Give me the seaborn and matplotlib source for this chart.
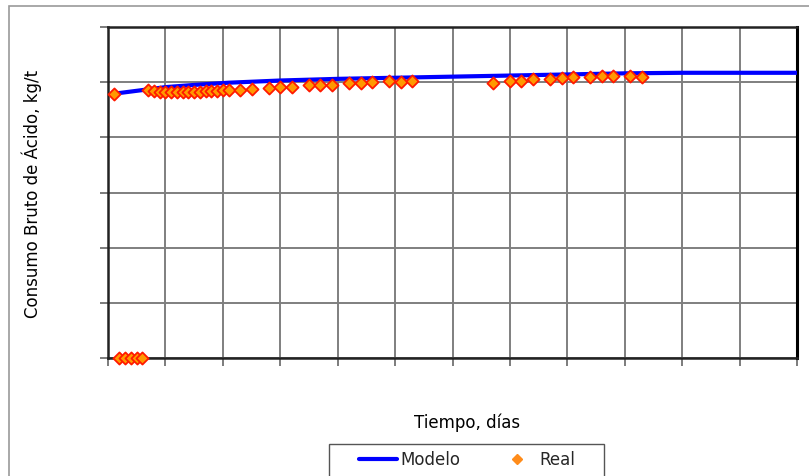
import numpy as np
import pandas as pd
import matplotlib
matplotlib.use("Agg")
import matplotlib.pyplot as plt
from matplotlib.patches import Rectangle
from matplotlib.lines import Line2D
import seaborn as sns

# ---- data ----
real_days = [1, 2, 3, 4, 5, 6,
             7, 8, 9, 10, 11, 12, 13, 14, 15, 16, 17, 18, 19, 20, 21,
             23, 25, 28, 30, 32, 35, 37, 39, 42, 44, 46, 49, 51, 53,
             67, 70, 72, 74, 77, 79, 81, 84, 86, 88, 91, 93]
real_vals = [47.9, 0, 0, 0, 0, 0,
             48.5, 48.4, 48.3, 48.3, 48.2, 48.2, 48.2, 48.3, 48.3, 48.3, 48.4, 48.4, 48.4, 48.5, 48.5,
             48.6, 48.7, 48.9, 49.1, 49.1, 49.5, 49.5, 49.5, 49.9, 49.9, 50.0, 50.2, 50.1, 50.2,
             49.9, 50.2, 50.2, 50.5, 50.5, 50.7, 50.9, 51.0, 51.1, 51.1, 51.2, 51.0]
model_days = [1, 7, 10, 15, 21, 30, 40, 50, 60, 70, 80, 90, 100, 110, 120]
model_vals = [47.9, 48.7, 49.1, 49.5, 49.9, 50.3, 50.6, 50.8, 51.0, 51.2, 51.4, 51.6, 51.7, 51.7, 51.7]

x_ticks = list(range(0, 121, 10))
y_ticks = list(range(0, 61, 10))

real_df = pd.DataFrame({"dia": real_days, "valor": real_vals})
model_df = pd.DataFrame({"dia": model_days, "valor": model_vals})

sns.set_theme(style="white")
plt.rcParams["font.family"] = ["DejaVu Sans"]

W, H = 809, 476
fig = plt.figure(figsize=(W / 100, H / 100), dpi=100)
fig.patch.set_facecolor("white")

# outer chart-area border
fig.patches.append(Rectangle((9 / W, -0.05), 1.0, 1 - 6 / H + 0.05,
                             transform=fig.transFigure, fill=False,
                             edgecolor="#9a9a9a", linewidth=1.2, zorder=0))

ax = fig.add_axes([108 / W, 1 - 358 / H, (797 - 108) / W, (358 - 27) / H])

sns.lineplot(data=model_df, x="dia", y="valor", ax=ax, color="#0000ff",
             linewidth=3, zorder=3, legend=False)
sns.scatterplot(data=real_df, x="dia", y="valor", ax=ax, marker="D",
                s=38, color="#ff9900", edgecolor="#ff1a00", linewidth=1.3,
                zorder=4, legend=False, clip_on=False)

ax.set_xlim(0, 120)
ax.set_ylim(0, 60)
ax.set_xticks(x_ticks)
ax.set_yticks(y_ticks)
ax.tick_params(labelbottom=False, labelleft=False, bottom=True, left=True,
               direction="out", length=6, width=1.2, color="#666666")
ax.grid(True, color="#7f7f7f", linewidth=1.4)
ax.set_axisbelow(True)
for side, sp in ax.spines.items():
    sp.set_visible(True)
    sp.set_color("#222222")
    sp.set_linewidth(1.8)
ax.spines["right"].set_color("#000000")
ax.spines["right"].set_linewidth(2.2)
ax.set_xlabel("")
ax.set_ylabel("")

fig.text(32 / W, 1 - 194 / H, "Consumo Bruto de Ácido, kg/t", rotation=90,
         ha="center", va="center", fontsize=12, color="black")
fig.text(467 / W, 1 - 423 / H, "Tiempo, días", ha="center", va="center",
         fontsize=12, color="black")

# legend box
fig.patches.append(Rectangle((329 / W, -0.05), (604 - 329) / W, (476 - 444) / H + 0.05,
                             transform=fig.transFigure, fill=False,
                             edgecolor="#555555", linewidth=1.0, zorder=5))
handles = [Line2D([0], [0], color="#0000ff", linewidth=3),
           Line2D([0], [0], linestyle="none", marker="D", markersize=5,
                  markerfacecolor="#ff8c1a", markeredgecolor="#ff8c1a")]
fig.legend(handles, ["Modelo", "Real"], loc="center",
           bbox_to_anchor=(467 / W, 1 - 460 / H), ncol=2, frameon=False,
           fontsize=12, handlelength=2.3, handletextpad=0.2,
           columnspacing=2.2)

fig.savefig("out.png", dpi=100, facecolor="white")
